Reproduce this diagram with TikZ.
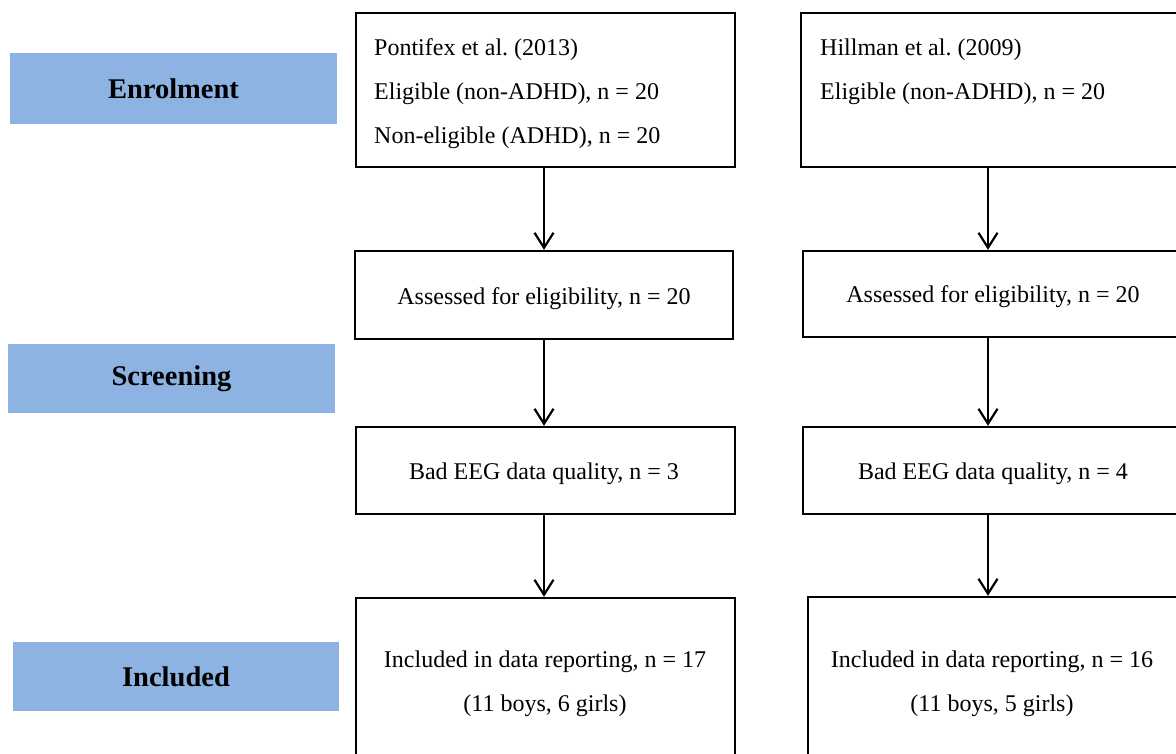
\documentclass[tikz,border=0pt]{standalone}
\usepackage{fontspec}
\setmainfont{Liberation Serif}
\usetikzlibrary{arrows.meta}
\definecolor{stageblue}{HTML}{8DB3E2}
\tikzset{
  stage/.style={fill=stageblue, draw=none, inner sep=0pt, font=\fontsize{28.5}{30}\selectfont\bfseries},
  flowbox/.style={draw=black, line width=2.4pt, inner sep=0pt},
  txt/.style={inner sep=0pt, font=\fontsize{24}{44}\selectfont\frenchspacing},
  flowarrow/.style={line width=2.2pt, -{Straight Barb[length=15pt,width=19pt,line width=2.2pt]}}
}
\begin{document}
\begin{tikzpicture}[x=1pt,y=-1pt]
\useasboundingbox (0,0) rectangle (1176,753);
\clip (0,0) rectangle (1176,753);
% stage labels
\node[stage, minimum width=327pt, minimum height=71pt] (enrol) at (173.5,88.5) {Enrolment};
\node[stage, minimum width=327pt, minimum height=69pt] (screen) at (171.5,378.5) {Screening};
\node[stage, minimum width=326pt, minimum height=69pt] (incl) at (176,676.5) {Included};
% left column boxes
\node[flowbox, minimum width=379pt, minimum height=154pt] (p1) at (545.5,90) {};
\node[flowbox, minimum width=378pt, minimum height=88pt] (p2) at (544,295) {};
\node[flowbox, minimum width=379pt, minimum height=87pt] (p3) at (545.5,470.5) {};
\node[flowbox, minimum width=379pt, minimum height=162pt] (p4) at (545.5,679) {};
% right column boxes
\node[flowbox, minimum width=386pt, minimum height=154pt] (h1) at (994,90) {};
\node[flowbox, minimum width=380pt, minimum height=86pt] (h2) at (993,294) {};
\node[flowbox, minimum width=380pt, minimum height=87pt] (h3) at (993,470.5) {};
\node[flowbox, minimum width=375pt, minimum height=163pt] (h4) at (995.5,678.5) {};
% texts
\node[txt, anchor=west, align=left] (p1t) at (374,94) {Pontifex et al. (2013)\\Eligible (non-ADHD), n = 20\\Non-eligible (ADHD), n = 20};
\node[txt, anchor=west, align=left] (h1t) at (820,72) {Hillman et al. (2009)\\Eligible (non-ADHD), n = 20};
\node[txt] (p2t) at (544,299) {Assessed for eligibility, n = 20};
\node[txt] (h2t) at (993,297) {Assessed for eligibility, n = 20};
\node[txt] (p3t) at (544,474) {Bad EEG data quality, n = 3};
\node[txt] (h3t) at (993,474) {Bad EEG data quality, n = 4};
\node[txt, align=center] (p4t) at (545,684) {Included in data reporting, n = 17\\(11 boys, 6 girls)};
\node[txt, align=center] (h4t) at (992,684) {Included in data reporting, n = 16\\(11 boys, 5 girls)};
% arrows
\draw[flowarrow] (p1.south -| 544,0) -- (p2.north -| 544,0);
\draw[flowarrow] (p2.south -| 544,0) -- (p3.north -| 544,0);
\draw[flowarrow] (p3.south -| 544,0) -- (p4.north -| 544,0);
\draw[flowarrow] (h1.south -| 988,0) -- (h2.north -| 988,0);
\draw[flowarrow] (h2.south -| 988,0) -- (h3.north -| 988,0);
\draw[flowarrow] (h3.south -| 988,0) -- (h4.north -| 988,0);
\end{tikzpicture}
\end{document}
